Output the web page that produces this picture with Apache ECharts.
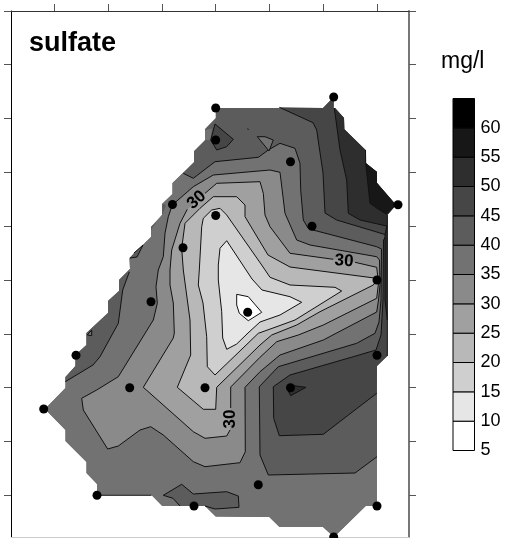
<!DOCTYPE html>
<html>
<head>
<meta charset="utf-8">
<style>html,body{margin:0;padding:0;background:#fff}#c{width:507px;height:538px}</style>
<script src="https://cdn.jsdelivr.net/npm/echarts@6/dist/echarts.min.js"></script>
</head>
<body>
<div id="c"></div>
<script>
// Survey-grid coordinates of the axes
const xTicks = [54.3, 108, 162, 215.7, 269.5, 323.3, 377];
const yTicks = [11, 64.7, 118.3, 172.3, 226, 280, 334, 387.7, 441.7, 495.3];
// Legend
const legendLevels = [5,10,15,20,25,30,35,40,45,50,55,60,65];
const bandColors = ['#ffffff','#e6e6e6','#cfcfcf','#b8b8b8','#a0a0a0','#8a8a8a','#727272','#5c5c5c','#464646','#2e2e2e','#171717','#000000'];
// Sampling stations
const stations = [[215.7,108],[215.7,140],[172.5,204.5],[215.7,215.5],[183,247.7],[333.7,97],[290.5,161.7],[312,226.3],[398,204.7],[377,280],[377,355.3],[247.7,312.3],[290.5,387.7],[151,301.7],[76,355.3],[43.7,409],[129.7,387.7],[205,387.7],[97,495.3],[194,506],[258.3,484.7],[377,506],[333.7,537]];
// Map outline
const hull = [[215.7,108],[323,108],[333.7,97],[333.7,108],[335,108],[344,118],[344.3,129.3],[365.5,150],[365.7,163],[377,172],[377,183],[396,205],[387.3,215],[387.3,356],[377,366],[377,506],[365.7,506],[334,537],[323,527],[279.5,527],[269.3,517],[215.7,516.5],[205,506],[162.3,506],[151.5,495],[97,495],[97,484],[86.5,473],[86.5,462],[65.5,441],[65.5,430],[45,409],[65.5,388],[65.5,377],[75.5,366],[75.5,355],[86.5,345],[86.5,333],[108,313],[108,301],[119,291],[119,280],[130,269],[129.5,258],[151,237],[151,227],[162,215],[162,204],[172.5,194],[172.5,183],[194,162],[194,151],[205,140],[205,129],[215.7,118]];
// Contours (value isolines)
const c40 = [[183.3,173.3],[193.3,178.3],[215,161.7],[258.3,157.3],[268.3,150],[280,143.3],[295,148.3],[300,163.3],[300.7,190],[303.3,220],[308,228],[313,230],[376.7,246.7],[381.5,249],[381,300],[379,322],[375,333.3],[356.7,343.3],[278.3,366.7],[259.3,386.7],[260,455],[268.3,475],[355,473],[377,456.7]];
const c40Edge = [[377,506],[365.7,506],[334,537],[323,527],[279.5,527],[269.3,517],[215.7,516.5],[205,506],[162.3,506],[151.5,495],[97,495],[97,484],[86.5,473],[86.5,462],[65.5,441],[65.5,430],[45,409],[65.5,388],[65.5,377],[75.5,366],[75.5,355],[86.5,345],[86.5,333],[108,313],[108,301],[119,291],[119,280],[130,269],[129.5,258],[151,237],[151,227],[162,215],[162,204],[172.5,194],[172.5,183]];
const c40West = [[65.3,381.7],[93,365],[100,356.7],[118.3,323.3],[122.7,290],[129.3,272]];
const c40WestEdge = [[130,269],[119,280],[119,291],[108,301],[108,313],[86.5,333],[86.5,345],[75.5,355],[75.5,366],[65.5,377]];
const c45 = [[279.3,107.3],[313,122.7],[316.7,130],[323,173],[325,213],[336.7,220],[386.7,235],[383.5,240],[383,300],[381,335],[376,350],[353.3,356.7],[290,375],[273.3,386.7],[273.7,418.3],[279.3,435.7],[323.3,434.3],[376.7,393.3]];
const c45Edge = [[377,366],[387.3,356],[387.3,215],[396,205],[377,183],[377,172],[365.7,163],[365.5,150],[344.3,129.3],[344,118],[335,108],[333.7,108],[333.7,97],[323,108]];
const c50 = [[334.3,108],[340,150],[346.7,180],[348.3,213.3],[360,220],[386.7,226],[385,235],[385,300],[387.3,320]];
const c50Edge = [[387.3,215],[396,205],[377,183],[377,172],[365.7,163],[365.5,150],[344.3,129.3],[344,118],[335,108]];
const c55 = [[365.5,150],[365.7,163.3],[370,203.3],[376.7,208],[386.7,214.3]];
const c55Edge = [[396,205],[377,183],[377,172],[365.7,163]];
const c35 = [[172.3,205],[193.3,186.7],[213.3,175],[270,170],[280,172.3],[285,213.3],[296.7,240],[310,245],[376.7,256.7],[379.5,260],[380,285],[378.5,300],[376.7,312],[323.3,340],[280,355],[260,371.7],[245,387.3],[245.3,451.7],[240,462.7],[205,466.7],[193.3,461.7],[163.3,435],[150.7,426.7],[140,430],[118.3,446],[107.7,449],[83.3,410],[81.7,398.3],[96.7,390],[118.3,376.7],[153.3,320],[157.3,303.3],[156,286.7],[158.3,270],[163.3,256.7],[165,233.3],[168.3,216.7],[172.3,205]];
const c30a = [[205,193.3],[216.7,183.3],[260,181.7],[263.3,193.3],[265,215],[270,226.7],[290,253.3],[333.3,259.3]];
const c30b = [[355,262.3],[376.7,267.3],[378.5,283],[376.7,298.3],[323.3,325],[298.3,335],[276.7,341.7],[260,357.3],[230.7,387],[230.7,408]];
const c30c = [[230,430],[226.7,436],[205,438.3],[193.3,431.7],[143.3,387.3],[173.3,338],[174.3,333],[173.3,303],[170,285],[170,270],[171.7,250],[180,223.3],[187.3,209.3]];
const c25 = [[200,208.3],[213.3,196.7],[236.7,196.7],[245,205],[245,216.7],[268,255],[290,267],[376.7,278.3],[376.7,280],[373.3,285],[320,311.7],[296.7,325],[271.7,335],[260,345],[216.7,387.3],[215.7,409.3],[203.3,409.3],[177.3,387.3],[190.7,355],[190,320],[183.3,270],[181.7,248.3],[185,223.3],[200,208.3]];
const c20 = [[203.3,218.3],[211.7,210],[220,208.3],[226.7,215],[261.7,265],[270,277.3],[290,285],[335,287.3],[341.7,291],[295,320],[275,327.3],[258.3,333.3],[215,375],[207.3,366.7],[206.7,336.7],[203,303],[198.3,285],[199.3,270],[201.7,226.7],[203.3,218.3]];
const c15 = [[226.7,240.7],[252,279],[262,290],[290,296.7],[301.7,302.3],[280,315],[260,322],[248,333],[236.7,344],[226.7,349.3],[222.7,338],[221.7,311.7],[218.3,280],[218.3,265],[220,248.3],[226.7,240.7]];
const c10 = [[236.7,294.3],[248.3,296.7],[261.7,312.3],[248.3,320.7],[239.3,313.3],[236.7,305],[236.7,294.3]];
// Small closed patches
const islandNW = [[215,124],[233.3,139.3],[226.7,146.7],[216.7,150],[210.7,140],[215,124]];
const patchNW = [[205,130],[212,128.5],[210.7,140],[205,140]];
const islandN = [[257.3,136.7],[265,136.7],[273.3,140],[269,151],[257.3,136.7]];
const dotN = [[247,128.5],[249,129],[248,130],[247,128.5]];
const islandS = [[180,506],[173,498.3],[163.3,495.3],[181.7,484.3],[193.3,494],[226.7,491.7],[238.3,496],[239,507.3],[215,509],[205,506]];
const islandSE = [[288.3,385],[306,387.3],[290.7,395.7],[287.7,390],[288.3,385]];
const patchW = [[87.3,335],[91.7,330],[91.7,335.7],[87.3,335]];
const sliver1 = [[162.3,215],[166,205],[162.3,204]];
const sliver2 = [[151,230],[156.7,221.7],[151,227]];
const sliver3 = [[130,258],[137,257],[143,245],[134,253]];
const edgeA = [[97,495.3],[151.5,495.3]];
const edgeB = [[387.3,215],[387.3,356]];
// Contour labels: x, y, rotation (degrees)
const contourLabels = [[196.7,200,42],[344,261,-4],[230,419,90]];
const contourLabelText = '30';

const C = {};
legendLevels.slice(0,-1).forEach((l,i)=>C[l]=bandColors[i]);
const regions = [
  {color:C[40], fill:hull, lines:[]},
  {color:C[35], fill:c40.concat(c40Edge), lines:[c40]},
  {color:C[40], fill:c40West.concat(c40WestEdge), lines:[c40West]},
  {color:C[35], fill:patchW, lines:[patchW]},
  {color:C[40], fill:sliver1, lines:[]},
  {color:C[40], fill:sliver2, lines:[]},
  {color:C[40], fill:sliver3, lines:[sliver3]},
  {color:C[45], fill:c45.concat(c45Edge), lines:[c45]},
  {color:C[50], fill:c50.concat(c50Edge), lines:[c50]},
  {color:C[55], fill:c55.concat(c55Edge), lines:[c55]},
  {color:C[35], fill:patchNW, lines:[]},
  {color:C[45], fill:islandNW, lines:[islandNW]},
  {color:C[35], fill:islandN, lines:[islandN]},
  {color:'#000', fill:dotN, lines:[]},
  {color:C[40], fill:islandS, lines:[islandS]},
  {color:C[50], fill:islandSE, lines:[islandSE]},
  {color:C[30], fill:c35, lines:[c35]},
  {color:C[25], fill:c30a.concat(c30b,c30c), lines:[c30a,c30b,c30c]},
  {color:C[20], fill:c25, lines:[c25]},
  {color:C[15], fill:c20, lines:[c20]},
  {color:C[10], fill:c15, lines:[c15]},
  {color:C[5],  fill:c10, lines:[c10]},
  {color:'none', fill:null, lines:[edgeA,edgeB]}
];
const FONT = '"Liberation Sans", Arial, sans-serif';
const hidden = {axisLabel:{show:false}, splitLine:{show:false}};
const chart = echarts.init(document.getElementById('c'), null, {renderer:'canvas'});
chart.setOption({
  animation:false,
  backgroundColor:'#ffffff',
  title:[
    {text:'sulfate', left:29, top:30, padding:0, textStyle:{fontFamily:FONT,fontSize:27,fontWeight:'bold',color:'#000'}},
    {text:'mg/l', left:441, top:50, padding:0, textStyle:{fontFamily:FONT,fontSize:23,fontWeight:'normal',color:'#000'}}
  ],
  grid:[
    {left:11, top:11, width:398, height:526},
    {left:453, top:98.5, width:21.5, height:352}
  ],
  xAxis:[
    Object.assign({type:'value',gridIndex:0,position:'top',min:11,max:409,
      axisLine:{show:true,lineStyle:{color:'#333',width:1}},
      axisTick:{show:true,customValues:xTicks,length:7,lineStyle:{color:'#555',width:1}}},hidden),
    Object.assign({type:'value',gridIndex:0,position:'bottom',min:11,max:409,
      axisLine:{show:true,lineStyle:{color:'#ccc',width:1}},
      axisTick:{show:false}},hidden),
    Object.assign({type:'value',gridIndex:1,min:0,max:1,axisLine:{show:false},axisTick:{show:false}},hidden)
  ],
  yAxis:[
    Object.assign({type:'value',gridIndex:0,position:'left',inverse:true,min:11,max:537,
      axisLine:{show:true,lineStyle:{color:'#000',width:1}},
      axisTick:{show:true,customValues:yTicks,length:7,lineStyle:{color:'#555',width:1}}},hidden),
    Object.assign({type:'value',gridIndex:0,position:'right',inverse:true,min:11,max:537,
      axisLine:{show:true,lineStyle:{color:'#777',width:2}},
      axisTick:{show:true,customValues:yTicks,length:7,lineStyle:{color:'#555',width:1}}},hidden),
    {type:'value',gridIndex:1,position:'right',min:5,max:65,interval:5,
      axisLine:{show:false},axisTick:{show:false},splitLine:{show:false},
      axisLabel:{show:true,margin:6,fontFamily:FONT,fontSize:18,color:'#000',
        formatter:v=>v===65?'':String(v)}}
  ],
  series:[
    {type:'custom',coordinateSystem:'cartesian2d',xAxisIndex:0,yAxisIndex:0,silent:true,z:2,
      data:regions.map((r,i)=>[i]),
      encode:{x:[],y:[]},
      renderItem:(params,api)=>{
        const r = regions[params.dataIndex];
        const children = [];
        if(r.fill){
          children.push({type:'polygon',shape:{points:r.fill.map(p=>api.coord(p))},style:{fill:r.color,stroke:null}});
        }
        r.lines.forEach(l=>children.push({type:'polyline',shape:{points:l.map(p=>api.coord(p))},style:{fill:null,stroke:'#111',lineWidth:1}}));
        return {type:'group',children};
      }},
    {type:'custom',coordinateSystem:'cartesian2d',xAxisIndex:0,yAxisIndex:0,silent:true,z:3,
      data:contourLabels,
      renderItem:(params,api)=>{
        const p = api.coord([api.value(0),api.value(1)]);
        return {type:'text',x:p[0],y:p[1],rotation:api.value(2)*Math.PI/180,
          style:{text:contourLabelText,fill:'#000',font:'bold 17px '+FONT,textAlign:'center',textVerticalAlign:'middle'}};
      }},
    {type:'scatter',xAxisIndex:0,yAxisIndex:0,data:stations,symbol:'circle',symbolSize:9,clip:false,z:4,silent:true,
      itemStyle:{color:'#000',opacity:1}},
    {type:'custom',coordinateSystem:'cartesian2d',xAxisIndex:2,yAxisIndex:2,silent:true,z:2,
      data:bandColors.map((c,i)=>[legendLevels[i],legendLevels[i+1]]),
      encode:{x:[],y:[0,1]},
      renderItem:(params,api)=>{
        const a = api.coord([0,api.value(0)]), b = api.coord([1,api.value(1)]);
        return {type:'rect',shape:{x:a[0],y:b[1],width:b[0]-a[0],height:a[1]-b[1]},
          style:{fill:bandColors[params.dataIndex],stroke:'#000',lineWidth:1}};
      }}
  ]
});
</script>
</body>
</html>
